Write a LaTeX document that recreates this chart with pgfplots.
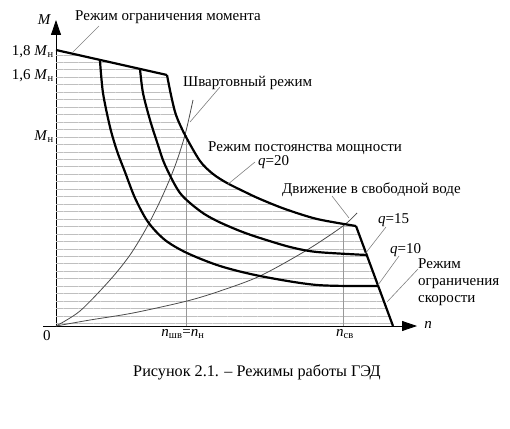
\documentclass[border=0pt]{standalone}
\usepackage{pgfplots}
\pgfplotsset{compat=1.18}
\usepackage{fontspec}
\setmainfont{Liberation Serif}
\usetikzlibrary{arrows.meta,patterns.meta}
\newcommand{\lbl}{\fontsize{15}{17}\selectfont}
\newcommand{\capfont}{\fontsize{16.2}{18}\selectfont}
\begin{document}
\begin{tikzpicture}
\begin{axis}[
  x=1pt, y=1pt,
  xmin=-13, xmax=361, ymin=0, ymax=306,
  axis lines=middle,
  axis line style={line width=0.8pt, -{Triangle[length=15pt,width=10pt]}},
  clip=false,
  major tick length=0pt,
  xtick={127,289},
  xticklabels={{\textit{n}\textsubscript{шв}=\textit{n}\textsubscript{н}}, {\textit{n}\textsubscript{св}}},
  ytick={274,250,189},
  yticklabels={{1,8 \textit{M}\textsubscript{н}}, {1,6 \textit{M}\textsubscript{н}}, {\textit{M}\textsubscript{н}}},
  tick label style={font=\lbl},
  xticklabel style={inner sep=3pt},
  yticklabel style={inner sep=2pt},
]
% invisible frame for the picture size
\path (axis cs:-56,-102) rectangle (axis cs:454,326);

% hatched working region
\addplot[draw=none, pattern={Lines[angle=0,distance=7.46pt,line width=0.9pt]}, pattern color=gray!50]
 coordinates {(0,0) (0,276) (111,251) (115,231) (120,211) (129,191) (144,165) (157,152) (171,143) (189,134) (204,127) (229,117) (261,107) (300,100) (337,0)} -- cycle;

% vertical guide lines
\addplot[gray!80, line width=0.6pt] coordinates {(130,0) (130,191)};
\addplot[gray!80, line width=0.6pt] coordinates {(287,0) (287,101)};

% propeller characteristics (thin)
\addplot[black!70, line width=0.8pt, smooth] coordinates {(0,0) (24,15) (54,46) (74,71) (91,99) (106,129) (119,160) (129,191) (137,226)};
\addplot[black!70, line width=0.8pt, smooth] coordinates {(0,0) (34,6) (77,13) (131,25) (164,35) (204,50) (251,76) (287,100) (301,113)};

% torque limit
\addplot[black, line width=2.2pt] coordinates {(0,276) (111,251)};
% q = 20
\addplot[black, line width=2.2pt, smooth] coordinates {(111,251) (115,231) (120,211) (129,191) (144,165) (157,152) (171,143) (189,134) (204,127) (229,117) (261,107) (300,100)};
% q = 15
\addplot[black, line width=2.2pt, smooth] coordinates {(84,257) (87,233) (94,206) (102,181) (109,161) (124,133) (144,115) (161,105) (184,95) (204,88) (234,79) (261,74) (311,71)};
% q = 10
\addplot[black, line width=2.2pt, smooth] coordinates {(44,265) (47,233) (54,199) (61,175) (69,154) (79,128) (92,104) (109,86) (131,73) (164,60) (204,50) (261,41) (322,40)};
% speed limit
\addplot[black, line width=2.2pt] coordinates {(300,100) (337,0)};

% leader lines
\addplot[gray, line width=0.6pt] coordinates {(43,300) (16,273)};
\addplot[gray, line width=0.6pt] coordinates {(164,239) (134,204)};
\addplot[gray, line width=0.6pt] coordinates {(199,164) (171,141)};
\addplot[gray, line width=0.6pt] coordinates {(276,130) (293,108)};
\addplot[gray, line width=0.6pt] coordinates {(330,99) (309,72)};
\addplot[gray, line width=0.6pt] coordinates {(343,70) (322,41)};
\addplot[gray, line width=0.6pt] coordinates {(362,57) (331,24)};

% labels
\node[anchor=west, font=\lbl, inner sep=0pt] at (axis cs:19,309) {Режим ограничения момента};
\node[anchor=west, font=\lbl, inner sep=0pt] at (axis cs:127,243) {Швартовный режим};
\node[anchor=west, font=\lbl, inner sep=0pt] at (axis cs:152,178) {Режим постоянства мощности};
\node[anchor=west, font=\lbl, inner sep=0pt] at (axis cs:202,164) {\textit{q}=20};
\node[anchor=west, font=\lbl, inner sep=0pt] at (axis cs:226,136) {Движение в свободной воде};
\node[anchor=west, font=\lbl, inner sep=0pt] at (axis cs:322,106) {\textit{q}=15};
\node[anchor=west, font=\lbl, inner sep=0pt] at (axis cs:334,76) {\textit{q}=10};
\node[anchor=west, font=\lbl, inner sep=0pt, align=left] at (axis cs:362,44) {Режим\\ограничения\\скорости};
\node[font=\lbl\itshape] at (axis cs:-12,306) {M};
\node[font=\lbl\itshape] at (axis cs:372,1) {n};
\node[font=\lbl] at (axis cs:-9,-10) {0};
\node[font=\capfont] at (axis cs:201,-46) {Рисунок 2.1. – Режимы работы ГЭД};
\end{axis}
\end{tikzpicture}
\end{document}
